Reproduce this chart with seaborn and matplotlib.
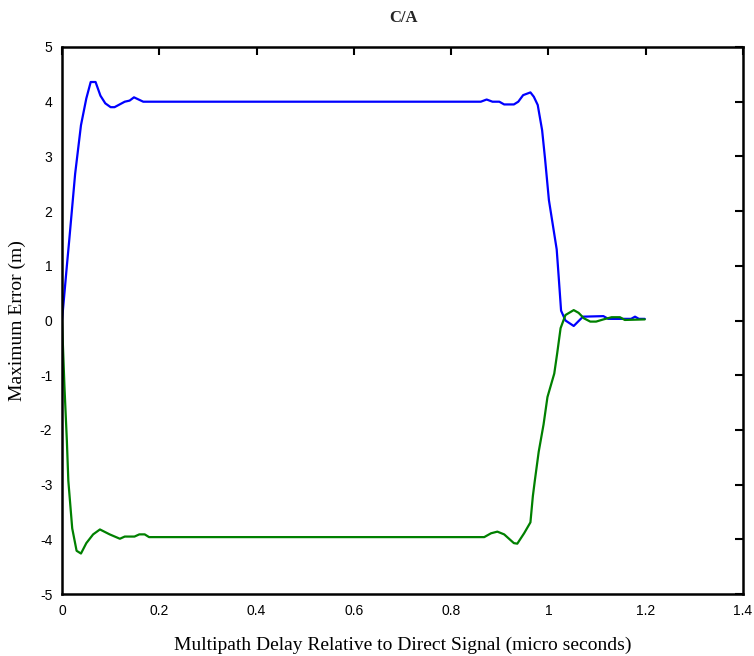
import matplotlib
matplotlib.use("Agg")
import matplotlib.pyplot as plt
import seaborn as sns
import pandas as pd

# Upper (blue) curve
blue_x = [0.0, 0.010, 0.015, 0.027, 0.039, 0.050, 0.059, 0.069, 0.079, 0.089, 0.100,
          0.108, 0.129, 0.139, 0.148, 0.167, 0.861, 0.873, 0.885, 0.899, 0.909, 0.929,
          0.938, 0.948, 0.963, 0.970, 0.978, 0.987, 0.993, 1.001, 1.017, 1.021, 1.026,
          1.035, 1.052, 1.071, 1.113, 1.123, 1.170, 1.178, 1.186, 1.198]
blue_y = [0.0, 1.0, 1.48, 2.68, 3.57, 4.06, 4.36, 4.36, 4.11, 3.97, 3.90,
          3.90, 4.00, 4.02, 4.08, 4.00, 4.00, 4.04, 4.00, 4.00, 3.95, 3.95,
          4.00, 4.12, 4.17, 4.09, 3.94, 3.48, 2.96, 2.20, 1.30, 0.81, 0.18,
          0.00, -0.10, 0.07, 0.08, 0.03, 0.03, 0.07, 0.03, 0.03]

# Lower (green) curve
green_x = [0.0, 0.005, 0.010, 0.013, 0.021, 0.030, 0.039, 0.050, 0.064, 0.078, 0.098,
           0.119, 0.129, 0.149, 0.159, 0.170, 0.179, 0.868, 0.882, 0.895, 0.909, 0.929,
           0.936, 0.950, 0.963, 0.968, 0.972, 0.980, 0.990, 0.998, 1.012, 1.018, 1.025,
           1.035, 1.052, 1.062, 1.073, 1.086, 1.098, 1.113, 1.130, 1.147, 1.157, 1.198]
green_y = [0.0, -1.2, -2.2, -2.93, -3.80, -4.21, -4.26, -4.07, -3.91, -3.82, -3.91,
           -3.99, -3.95, -3.95, -3.91, -3.91, -3.96, -3.96, -3.89, -3.86, -3.91, -4.07,
           -4.08, -3.89, -3.69, -3.21, -2.93, -2.40, -1.90, -1.40, -0.97, -0.60, -0.14,
           0.10, 0.19, 0.14, 0.04, -0.02, -0.02, 0.02, 0.06, 0.06, 0.01, 0.02]

x_ticks = [0, 0.2, 0.4, 0.6, 0.8, 1.0, 1.2, 1.4]
x_tick_labels = ["0", "0.2", "0.4", "0.6", "0.8", "1", "1.2", "1.4"]
y_ticks = [-5, -4, -3, -2, -1, 0, 1, 2, 3, 4, 5]

sns.set_theme(style="white")
plt.rcParams['font.family'] = ['Liberation Sans', 'DejaVu Sans']
plt.rcParams['axes.unicode_minus'] = False

df = pd.concat([
    pd.DataFrame({"x": blue_x, "y": blue_y, "series": "max"}),
    pd.DataFrame({"x": green_x, "y": green_y, "series": "min"}),
])

fig = plt.figure(figsize=(7.54, 6.56), dpi=100)
ax = fig.add_axes([62/754, 1 - 594/656, (743-62)/754, (594-47)/656])
sns.lineplot(data=df, x="x", y="y", hue="series", palette={"max": "#0000ff", "min": "#008000"},
             sort=False, estimator=None, linewidth=1.6, legend=False, ax=ax)

ax.set_xlim(0, 1.4)
ax.set_ylim(-5, 5)
ax.set_xticks(x_ticks)
ax.set_xticklabels(x_tick_labels)
ax.set_yticks(y_ticks)
ax.tick_params(direction="in", length=6, width=1.5, top=True, right=True,
               labelsize=10, colors="black", pad=7)
for s in ax.spines.values():
    s.set_visible(True)
    s.set_color("black")
    s.set_linewidth(1.8)

ax.set_xlabel("Multipath Delay Relative to Direct Signal (micro seconds)",
              family="Liberation Serif", fontsize=14, labelpad=14, color="black")
ax.set_ylabel("Maximum Error (m)", family="Liberation Serif", fontsize=14,
              labelpad=10, color="black")
fig.text(404/754, 1 - 18/656, "C/A", family="Liberation Serif", fontweight="bold",
         fontsize=12, ha="center", va="center")

fig.savefig("out.png", dpi=100)
